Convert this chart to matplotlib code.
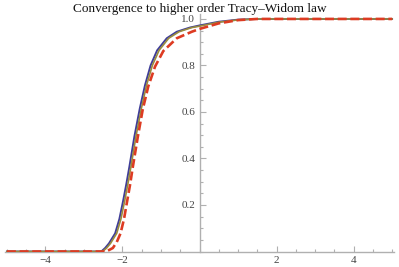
import numpy as np
import matplotlib.pyplot as plt
from matplotlib.ticker import MultipleLocator, FixedLocator

plt.rcParams['font.family'] = ['Liberation Serif', 'DejaVu Serif']

# values
x_blue = [-5, -2.55, -2.45, -2.35, -2.19, -2.08, -1.98, -1.90, -1.82, -1.69,
          -1.55, -1.415, -1.27, -1.10, -0.85, -0.59, -0.25, 0, 0.5, 1.0, 1.5, 5]
y_blue = [0, 0, 0.015, 0.035, 0.078, 0.14, 0.22, 0.29, 0.365, 0.495,
          0.615, 0.715, 0.80, 0.865, 0.917, 0.945, 0.963, 0.972, 0.988, 0.997, 1.0, 1.0]

x_gold = [-5, -2.52, -2.41, -2.31, -2.15, -2.04, -1.94, -1.86, -1.78, -1.65,
          -1.51, -1.375, -1.225, -1.05, -0.80, -0.53, -0.20, 0, 0.5, 1.0, 1.5, 5]
y_gold = [0, 0, 0.015, 0.035, 0.078, 0.14, 0.22, 0.29, 0.365, 0.495,
          0.615, 0.715, 0.80, 0.865, 0.917, 0.945, 0.963, 0.969, 0.986, 0.996, 1.0, 1.0]

x_red = [-5, -2.42, -2.25, -2.15, -2.05, -1.96, -1.875, -1.80, -1.735, -1.605,
         -1.475, -1.33, -1.155, -0.94, -0.59, -0.2, 0, 0.5, 1.0, 1.5, 5]
y_red = [0, 0, 0.015, 0.04, 0.078, 0.14, 0.22, 0.29, 0.36, 0.49,
         0.61, 0.71, 0.795, 0.862, 0.917, 0.945, 0.957, 0.981, 0.995, 1.0, 1.0]

xticks = [-4, -2, 2, 4]
yticks = [0.2, 0.4, 0.6, 0.8, 1.0]

fig = plt.figure(figsize=(3.99, 2.67), dpi=100)
ax = fig.add_axes([5 / 399, 15.5 / 267, 389 / 399, 237.2 / 267])

ax.plot(x_blue, y_blue, color='#3f3d99', lw=1.4, zorder=3)
ax.plot(x_gold, y_gold, color='#998c3d', lw=1.2, zorder=4)
ax.plot(x_red, y_red, color='#dd3b22', lw=1.9, dashes=(3.4, 1.4), zorder=5)

ax.set_xlim(-5.05, 5.05)
ax.set_ylim(0, 1.02)

for s in ['top', 'right']:
    ax.spines[s].set_visible(False)
ax.spines['left'].set_position(('data', 0))
ax.spines['bottom'].set_position(('data', 0))
for s in ['left', 'bottom']:
    ax.spines[s].set_color('#b0b0b0')
    ax.spines[s].set_linewidth(1.0)

ax.xaxis.set_major_locator(FixedLocator(xticks))
ax.yaxis.set_major_locator(FixedLocator(yticks))
ax.xaxis.set_minor_locator(MultipleLocator(0.5))
ax.yaxis.set_minor_locator(MultipleLocator(0.05))
ax.set_xticklabels([str(t).replace('-', '\u2212') for t in xticks])
ax.set_yticklabels(['%.1f' % t for t in yticks])

ax.tick_params(which='both', direction='in', color='#b0b0b0', width=0.8,
               labelsize=8, labelcolor='#444444')
ax.tick_params(which='major', length=4, pad=3)
ax.tick_params(which='minor', length=2.5)

fig.text(0.5, 1 - 9 / 267, 'Convergence to higher order Tracy\u2013Widom law',
         ha='center', va='center', fontsize=9.5, color='#111111')

fig.savefig('out.png', dpi=100)
